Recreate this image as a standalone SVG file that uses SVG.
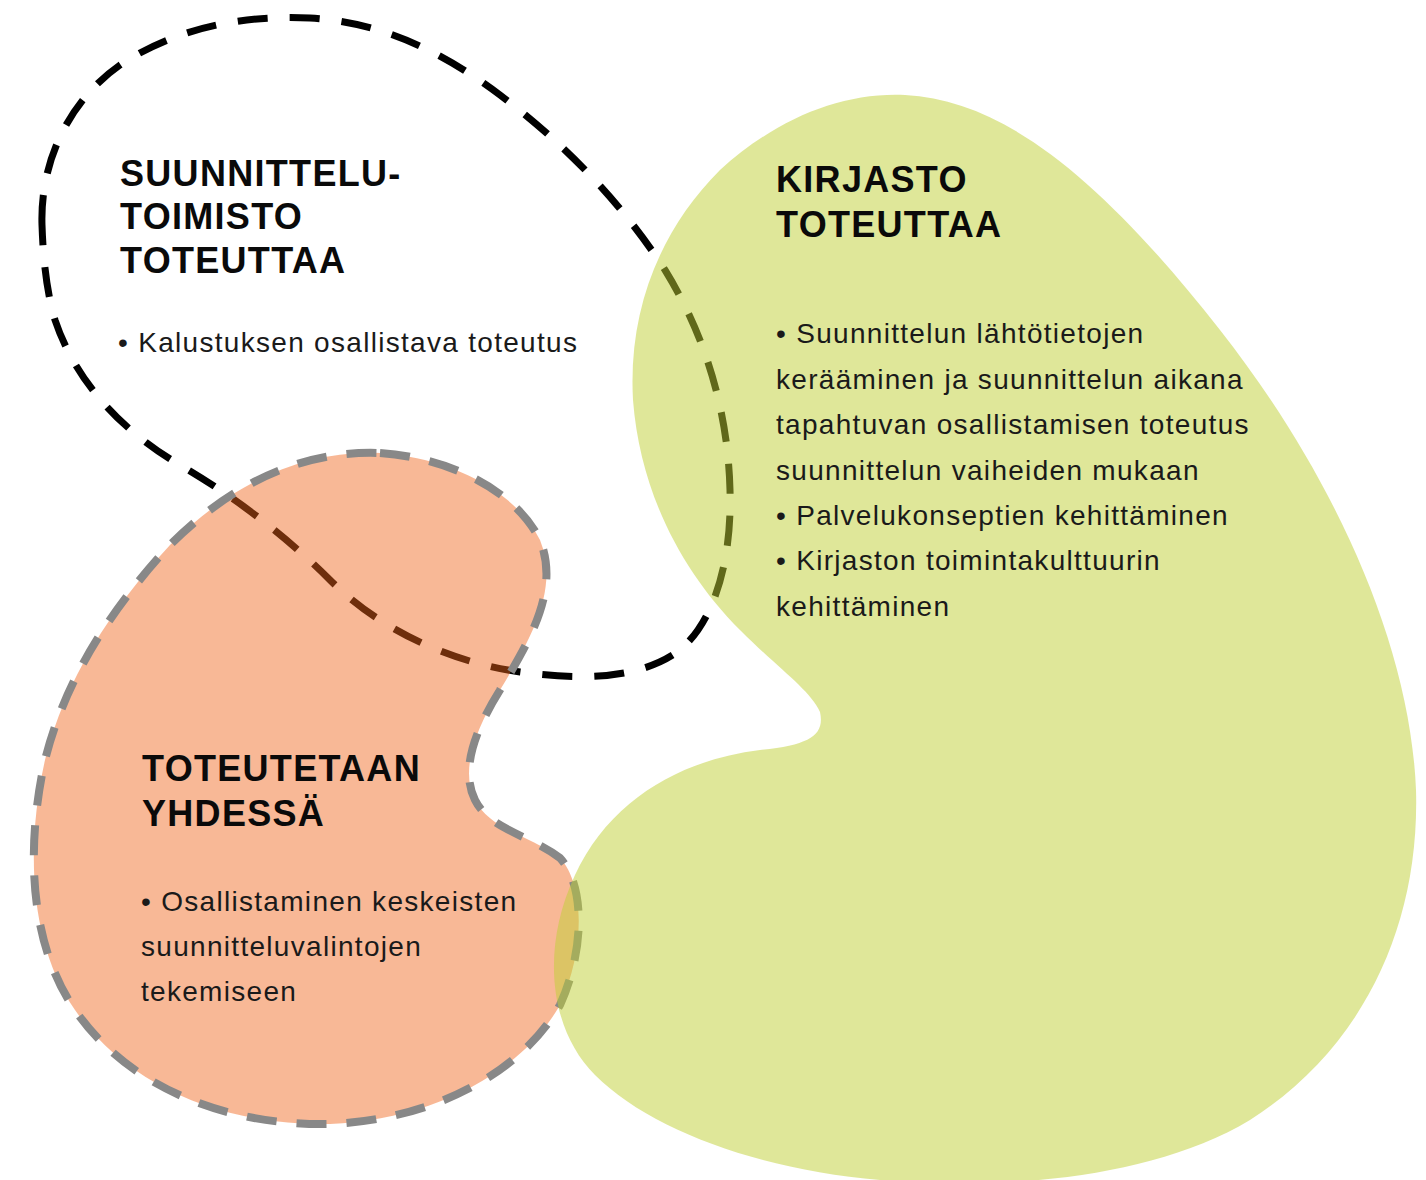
<svg xmlns="http://www.w3.org/2000/svg" width="1426" height="1180" viewBox="0 0 1426 1180">
<style>
.h{font-family:"Liberation Sans",Arial,sans-serif;font-weight:bold;font-size:36px;letter-spacing:1.3px;fill:#0a0a0a}
.b{font-family:"Liberation Sans",Arial,sans-serif;font-size:28px;letter-spacing:1.3px;fill:#1a1a1a}
</style>
<rect width="1426" height="1180" fill="#fff"/>
<g id="suunnittelutoimisto-outline">
<path d="M42,225 C40,160 70,100 120,65 C180,25 250,15 310,18 C380,22 440,50 500,95 C560,140 620,200 665,270 C705,335 728,410 730,490 C732,560 715,620 680,650 C640,680 580,680 520,672 C450,662 380,630 330,580 C290,540 240,500 180,465 C120,430 75,380 55,320 C46,290 43,255 42,225 Z" fill="none" stroke="#000" stroke-width="7" stroke-dasharray="30 22"/>
</g>
<g id="yhdessa-shape">
<path d="M380,453 C450,458 515,490 540,540 C560,590 530,640 500,690 C475,730 460,770 475,800 C490,830 530,835 560,858 C585,885 585,950 560,1005 C520,1075 430,1120 330,1124 C230,1126 130,1090 75,1010 C30,945 25,850 45,760 C65,680 110,610 170,545 C230,485 300,450 380,453 Z" fill="#ef641a" fill-opacity="0.46" stroke="none"/>
<path d="M380,453 C450,458 515,490 540,540 C560,590 530,640 500,690 C475,730 460,770 475,800 C490,830 530,835 560,858 C585,885 585,950 560,1005 C520,1075 430,1120 330,1124 C230,1126 130,1090 75,1010 C30,945 25,850 45,760 C65,680 110,610 170,545 C230,485 300,450 380,453 Z" fill="none" stroke="#888" stroke-width="8" stroke-dasharray="30 20"/>
</g>
<g id="kirjasto-shape">
<path d="M905,95 C1010,100 1110,190 1220,330 C1330,470 1410,640 1416,790 C1420,930 1360,1050 1250,1120 C1150,1180 1000,1190 880,1180 C760,1170 650,1130 595,1075 C550,1030 540,950 575,875 C610,800 680,760 760,750 C810,745 825,735 820,712 C810,690 780,670 740,630 C680,570 640,490 633,400 C628,310 660,230 720,170 C775,120 840,92 905,95 Z" fill="#c0d034" fill-opacity="0.5" stroke="none"/>
</g>
<g id="text-suunnittelutoimisto">
<text class="h" x="120" y="186">SUUNNITTELU-</text>
<text class="h" x="120" y="229">TOIMISTO</text>
<text class="h" x="120" y="273">TOTEUTTAA</text>
<text class="b" x="118" y="352">• Kalustuksen osallistava toteutus</text>
</g>
<g id="text-kirjasto">
<text class="h" x="776" y="192">KIRJASTO</text>
<text class="h" x="776" y="237">TOTEUTTAA</text>
<text class="b" x="776" y="343">• Suunnittelun lähtötietojen</text>
<text class="b" x="776" y="389">kerääminen ja suunnittelun aikana</text>
<text class="b" x="776" y="434">tapahtuvan osallistamisen toteutus</text>
<text class="b" x="776" y="480">suunnittelun vaiheiden mukaan</text>
<text class="b" x="776" y="525">• Palvelukonseptien kehittäminen</text>
<text class="b" x="776" y="570">• Kirjaston toimintakulttuurin</text>
<text class="b" x="776" y="616">kehittäminen</text>
</g>
<g id="text-yhdessa">
<text class="h" x="142" y="781">TOTEUTETAAN</text>
<text class="h" x="142" y="826">YHDESSÄ</text>
<text class="b" x="141" y="911">• Osallistaminen keskeisten</text>
<text class="b" x="141" y="956">suunnitteluvalintojen</text>
<text class="b" x="141" y="1001">tekemiseen</text>
</g>
</svg>
